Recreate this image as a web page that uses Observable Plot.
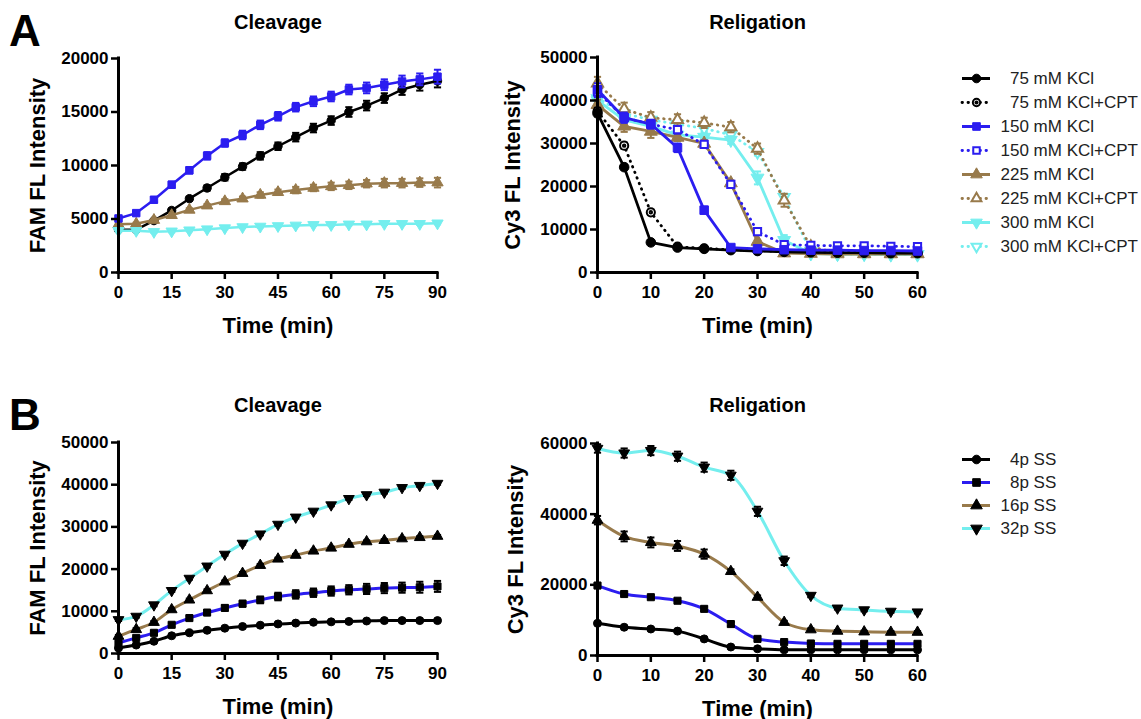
<!DOCTYPE html>
<html><head><meta charset="utf-8">
<script src="https://cdn.jsdelivr.net/npm/d3@7"></script>
<script src="https://cdn.jsdelivr.net/npm/@observablehq/plot@0.6"></script>
<style>
body{margin:0;background:#fff;width:1141px;height:719px;position:relative;overflow:hidden;font-family:"Liberation Sans",Arial,sans-serif;}
.panel{position:absolute;}
.letter{position:absolute;font-weight:bold;font-size:44px;line-height:1;color:#000;}
svg{overflow:visible;}
</style></head><body>
<div class="letter" style="left:9px;top:9px">A</div>
<div class="letter" style="left:9px;top:393px">B</div>
<div id="aCl" class="panel" style="left:0;top:0"></div>
<div id="aRel" class="panel" style="left:480px;top:0"></div>
<div id="aLeg" class="panel" style="left:940px;top:60px"></div>
<div id="bCl" class="panel" style="left:0;top:380px"></div>
<div id="bRel" class="panel" style="left:480px;top:380px"></div>
<div id="bLeg" class="panel" style="left:940px;top:440px"></div>
<script>
// ---------- data ----------
const timeCleavage = [0,5,10,15,20,25,30,35,40,45,50,55,60,65,70,75,80,85,90];
const timeReligation = [0,5,10,15,20,25,30,35,40,45,50,55,60];
const ticksCleavageX = [0,15,30,45,60,75,90];
const ticksReligationX = [0,10,20,30,40,50,60];
const ticksACleavageY = [0,5000,10000,15000,20000];
const ticksAReligationY = [0,10000,20000,30000,40000,50000];
const ticksBCleavageY = [0,10000,20000,30000,40000,50000];
const ticksBReligationY = [0,20000,40000,60000];

const labelsA = ["75 mM KCl","75 mM KCl+CPT","150 mM KCl","150 mM KCl+CPT","225 mM KCl","225 mM KCl+CPT","300 mM KCl","300 mM KCl+CPT"];
const labelsB = ["4p SS","8p SS","16p SS","32p SS"];

// Panel A, cleavage (FAM)
const aCl75  = [4000,4000,4850,5800,6900,7900,8900,9900,10900,11800,12650,13500,14200,15000,15600,16300,17100,17550,17900];
const aCl150 = [5050,5550,6800,8200,9550,10900,12100,12850,13800,14600,15450,16000,16450,17100,17250,17550,17850,18050,18300];
const aCl225 = [4500,4550,4900,5350,5850,6250,6650,6900,7250,7500,7700,7900,8050,8150,8300,8350,8350,8400,8400];
const aCl300 = [3900,3900,3800,3850,3950,4050,4150,4250,4300,4350,4400,4450,4450,4500,4500,4550,4550,4550,4600];
const aCl75Err  = [150,150,150,200,200,250,300,300,350,350,400,400,400,450,450,450,500,550,600];
const aCl150Err = [150,200,250,300,300,350,350,400,400,400,400,450,450,450,500,500,550,550,650];
const aCl225Err = [100,100,100,150,150,150,200,200,250,250,300,300,350,350,350,400,400,400,450];
const aCl300Err = [100,100,100,100,100,100,100,100,100,100,100,100,100,100,100,100,100,100,100];

// Panel A, religation (Cy3)
const aRel75     = [37000,24500,7000,5800,5500,5200,5000,4800,4700,4600,4600,4500,4500];
const aRel75cpt  = [37500,29500,14000,6000,5600,5300,5100,4900,4800,4700,4700,4600,4600];
const aRel150    = [42500,36000,34500,29000,14500,5800,5500,5300,5200,5200,5100,5100,5000];
const aRel150cpt = [42000,36000,34500,33200,29800,20500,9500,6500,6300,6200,6200,6100,6000];
const aRel225    = [39000,34000,32800,31400,30000,20800,7200,4500,4400,4300,4300,4300,4300];
const aRel225cpt = [44000,38000,36000,35500,34800,33800,28800,16800,6000,4500,4400,4400,4400];
const aRel300    = [40000,35500,34000,32000,31500,30800,22000,7500,4400,4300,4300,4200,4200];
const aRel300cpt = [40500,37000,35500,34500,33500,32000,28000,17500,5000,4300,4300,4200,4200];
const aRel75Err     = [700,600,400,200,200,200,200,200,200,200,200,200,200];
const aRel75cptErr  = [800,700,600,300,200,200,200,200,200,200,200,200,200];
const aRel150Err    = [1500,1200,1000,1000,800,500,300,300,300,300,300,300,300];
const aRel150cptErr = [1200,1000,1000,900,800,800,600,400,300,300,300,300,300];
const aRel225Err    = [1200,1300,1500,800,800,600,400,300,300,300,300,300,300];
const aRel225cptErr = [1500,1500,1300,1300,1200,1200,1200,1500,600,300,300,300,300];
const aRel300Err    = [800,800,800,800,800,900,1500,1200,400,300,300,300,300];
const aRel300cptErr = [800,800,800,800,800,800,800,800,400,300,300,300,300];

// Panel B, cleavage (FAM)
const bCl4  = [1300,2000,2900,4200,4900,5500,6000,6400,6700,7000,7200,7400,7500,7600,7700,7800,7800,7800,7800];
const bCl8  = [2500,3700,4900,6800,8400,9700,10800,11800,12700,13500,14000,14400,14800,15100,15300,15500,15600,15700,15900];
const bCl16 = [4100,5700,7400,10400,12700,14900,17000,19000,20900,22400,23300,24300,25000,25900,26500,26800,27200,27500,27800];
const bCl32 = [8000,8800,11500,14900,17800,20700,23500,26100,28300,30600,32300,33700,35200,36700,37600,38200,39300,39800,40300];
const bCl4Err  = [200,200,200,200,200,200,200,200,200,200,200,200,200,200,200,200,200,200,200];
const bCl8Err  = [300,300,400,400,500,500,600,700,800,900,1000,1000,1100,1100,1200,1200,1200,1300,1300];
const bCl16Err = [300,300,300,300,300,300,300,300,300,300,300,300,300,300,300,300,300,300,300];
const bCl32Err = [300,300,300,300,300,300,300,300,300,300,300,300,300,300,300,300,300,300,300];

// Panel B, religation (Cy3)
const bRel4  = [9100,8000,7500,6900,4700,2400,1900,1600,1600,1600,1600,1600,1600];
const bRel8  = [19800,17400,16500,15500,13200,8900,4700,3800,3400,3300,3300,3300,3300];
const bRel16 = [38300,33700,32000,31000,28700,23800,16500,9400,7300,6900,6700,6600,6600];
const bRel32 = [58600,57300,58000,56400,53300,51000,40800,26800,17000,13400,12900,12500,12300];
const bRel4Err  = [300,200,200,200,200,200,200,200,200,200,200,200,200];
const bRel8Err  = [500,500,500,500,600,600,500,500,600,600,600,600,600];
const bRel16Err = [1200,1400,1400,1400,1300,600,500,400,400,300,300,300,300];
const bRel32Err = [1200,1300,1300,1300,1300,1300,1300,1200,500,400,400,400,400];

// ---------- styles ----------
const BLACK = "#000000", BLUE = "#2b1df0", BROWN = "#987a4b", CYAN = "#74eeee";
const FONT = "'Liberation Sans', Arial, sans-serif";
const SQ3 = Math.sqrt(3);
const invTriangle = {draw(ctx, size){ const y = Math.sqrt(size/(SQ3*3)); ctx.moveTo(0, y*2); ctx.lineTo(-SQ3*y, -y); ctx.lineTo(SQ3*y, -y); ctx.closePath(); }};
const capSym = {draw(ctx, size){ const w = Math.sqrt(size/Math.PI); ctx.moveTo(-w,0); ctx.lineTo(w,0); }};
const circleDot = {draw(ctx, size){ const r = Math.sqrt(size/Math.PI); ctx.moveTo(r,0); ctx.arc(0,0,r,0,2*Math.PI); const q = r*0.3; ctx.moveTo(q,0); ctx.arc(0,0,q,0,2*Math.PI); }};

const styleA = {
  "75 mM KCl":      {color: BLACK, symbol: "circle",   open: false, dotted: false},
  "75 mM KCl+CPT":  {color: BLACK, symbol: circleDot,  open: true,  dotted: true},
  "150 mM KCl":     {color: BLUE,  symbol: "square",   open: false, dotted: false},
  "150 mM KCl+CPT": {color: BLUE,  symbol: "square",   open: true,  dotted: true},
  "225 mM KCl":     {color: BROWN, symbol: "triangle", open: false, dotted: false},
  "225 mM KCl+CPT": {color: BROWN, symbol: "triangle", open: true,  dotted: true},
  "300 mM KCl":     {color: CYAN,  symbol: invTriangle,open: false, dotted: false},
  "300 mM KCl+CPT": {color: CYAN,  symbol: invTriangle,open: true,  dotted: true}
};
const styleB = {
  "4p SS":  {color: BLACK, symbol: "circle",    marker: BLACK},
  "8p SS":  {color: BLUE,  symbol: "square",    marker: BLACK},
  "16p SS": {color: BROWN, symbol: "triangle",  marker: BLACK},
  "32p SS": {color: CYAN,  symbol: invTriangle, marker: BLACK}
};

function rows(label, times, values, errs){
  return times.map((t,i) => ({label, t, v: values[i], e: errs[i]}));
}

function seriesMarks(data, st, opts){
  const lineColor = st.color;
  const markColor = st.marker || st.color;
  const errColor = opts.errColor || st.color;
  const r = st.open ? opts.r * 0.85 : opts.r;
  return [
    Plot.line(data, {x: "t", y: "v", stroke: lineColor, strokeWidth: opts.lineWidth,
      strokeDasharray: st.dotted ? "0.5 5.5" : null, strokeLinecap: "round", strokeLinejoin: "round", curve: opts.curve}),
    Plot.ruleX(data, {x: "t", y1: d => d.v - d.e, y2: d => d.v + d.e, stroke: errColor, strokeWidth: 2}),
    Plot.dot(data, {x: "t", y: d => d.v + d.e, symbol: capSym, r: 3.6, stroke: errColor, strokeWidth: 2, fill: "none"}),
    Plot.dot(data, {x: "t", y: d => d.v - d.e, symbol: capSym, r: 3.6, stroke: errColor, strokeWidth: 2, fill: "none"}),
    Plot.dot(data, {x: "t", y: "v", symbol: st.symbol, r, fill: st.open ? "white" : markColor,
      stroke: markColor, strokeWidth: st.open ? 2 : 1})
  ];
}

function panel(cfg){
  const marginRight = 22, marginBottom = 70;
  const marks = [];
  for (const s of cfg.series) marks.push(...seriesMarks(s.data, s.style, cfg));
  marks.push(
    Plot.ruleX([cfg.xDomain[0]], {y1: cfg.yDomain[0], y2: cfg.yDomain[1], strokeWidth: 3, strokeLinecap: "square"}),
    Plot.ruleY([cfg.yDomain[0]], {x1: cfg.xDomain[0], x2: cfg.xDomain[1], strokeWidth: 3, strokeLinecap: "square"}),
    Plot.axisX({ticks: cfg.xTicks, tickSize: 7, tickPadding: 6, tickFormat: d => String(d), fontSize: 17, fontWeight: "bold", strokeWidth: 2.5, label: null}),
    Plot.axisY({ticks: cfg.yTicks, tickSize: 7, tickPadding: 3, tickFormat: d => String(d), fontSize: 17, fontWeight: "bold", strokeWidth: 2.5, label: null}),
    Plot.text([cfg.title], {text: d => d, frameAnchor: "top", lineAnchor: "middle", dy: cfg.titleDy, fontSize: 20, fontWeight: "bold"}),
    Plot.text(["Time (min)"], {text: d => d, frameAnchor: "bottom", lineAnchor: "middle", dy: cfg.xLabelDy, fontSize: 22, fontWeight: "bold"}),
    Plot.text([cfg.yLabel], {text: d => d, frameAnchor: "left", textAnchor: "middle", lineAnchor: "middle", rotate: -90, dx: cfg.yLabelDx, fontSize: 22, fontWeight: "bold"})
  );
  return Plot.plot({
    width: cfg.marginLeft + cfg.plotW + marginRight,
    height: cfg.marginTop + cfg.plotH + marginBottom,
    marginLeft: cfg.marginLeft, marginTop: cfg.marginTop, marginRight, marginBottom,
    style: {fontFamily: FONT, color: "black", background: "transparent", overflow: "visible"},
    x: {domain: cfg.xDomain},
    y: {domain: cfg.yDomain},
    marks
  });
}

const aSeriesCl = [
  {data: rows("75 mM KCl", timeCleavage, aCl75, aCl75Err), style: styleA["75 mM KCl"]},
  {data: rows("225 mM KCl", timeCleavage, aCl225, aCl225Err), style: styleA["225 mM KCl"]},
  {data: rows("300 mM KCl", timeCleavage, aCl300, aCl300Err), style: styleA["300 mM KCl"]},
  {data: rows("150 mM KCl", timeCleavage, aCl150, aCl150Err), style: styleA["150 mM KCl"]}
];
const aRelValues = {
  "300 mM KCl+CPT": [aRel300cpt, aRel300cptErr],
  "300 mM KCl": [aRel300, aRel300Err],
  "225 mM KCl+CPT": [aRel225cpt, aRel225cptErr],
  "225 mM KCl": [aRel225, aRel225Err],
  "150 mM KCl+CPT": [aRel150cpt, aRel150cptErr],
  "75 mM KCl+CPT": [aRel75cpt, aRel75cptErr],
  "75 mM KCl": [aRel75, aRel75Err],
  "150 mM KCl": [aRel150, aRel150Err]
};
const aSeriesRel = Object.entries(aRelValues).map(([k, [v, e]]) => ({data: rows(k, timeReligation, v, e), style: styleA[k]}));

const bSeriesCl = [
  {data: rows("32p SS", timeCleavage, bCl32, bCl32Err), style: styleB["32p SS"]},
  {data: rows("16p SS", timeCleavage, bCl16, bCl16Err), style: styleB["16p SS"]},
  {data: rows("8p SS", timeCleavage, bCl8, bCl8Err), style: styleB["8p SS"]},
  {data: rows("4p SS", timeCleavage, bCl4, bCl4Err), style: styleB["4p SS"]}
];
const bSeriesRel = [
  {data: rows("32p SS", timeReligation, bRel32, bRel32Err), style: styleB["32p SS"]},
  {data: rows("16p SS", timeReligation, bRel16, bRel16Err), style: styleB["16p SS"]},
  {data: rows("8p SS", timeReligation, bRel8, bRel8Err), style: styleB["8p SS"]},
  {data: rows("4p SS", timeReligation, bRel4, bRel4Err), style: styleB["4p SS"]}
];

document.getElementById("aCl").append(panel({
  series: aSeriesCl, xDomain: [0,90], yDomain: [0,20000], xTicks: ticksCleavageX, yTicks: ticksACleavageY,
  title: "Cleavage", yLabel: "FAM FL Intensity", marginLeft: 118, marginTop: 58, plotW: 319, plotH: 214,
  titleDy: -36, xLabelDy: 53, yLabelDx: -81, r: 4.2, lineWidth: 2.5, curve: "linear"
}));
document.getElementById("aRel").append(panel({
  series: aSeriesRel, xDomain: [0,60], yDomain: [0,50000], xTicks: ticksReligationX, yTicks: ticksAReligationY,
  title: "Religation", yLabel: "Cy3 FL Intensity", marginLeft: 117, marginTop: 57, plotW: 320, plotH: 215,
  titleDy: -35, xLabelDy: 53, yLabelDx: -85, r: 4.8, lineWidth: 2.8, curve: "linear"
}));
document.getElementById("bCl").append(panel({
  series: bSeriesCl, xDomain: [0,90], yDomain: [0,50000], xTicks: ticksCleavageX, yTicks: ticksBCleavageY,
  title: "Cleavage", yLabel: "FAM FL Intensity", marginLeft: 118, marginTop: 62, plotW: 319, plotH: 211,
  titleDy: -37, xLabelDy: 53, yLabelDx: -81, r: 4, lineWidth: 3, curve: "monotone-x", errColor: BLACK
}));
document.getElementById("bRel").append(panel({
  series: bSeriesRel, xDomain: [0,60], yDomain: [0,60000], xTicks: ticksReligationX, yTicks: ticksBReligationY,
  title: "Religation", yLabel: "Cy3 FL Intensity", marginLeft: 117, marginTop: 63, plotW: 320, plotH: 212,
  titleDy: -38, xLabelDy: 53, yLabelDx: -82, r: 4, lineWidth: 3, curve: "monotone-x", errColor: BLACK
}));

// ---------- legends ----------
function legend(labels, styles, cfg){
  const marks = [];
  for (const lab of labels){
    const st = styles[lab];
    const markColor = st.marker || st.color;
    marks.push(
      Plot.ruleY([lab], {x1: 0, x2: 1, stroke: st.color, strokeWidth: st.dotted ? 2.8 : 3,
        strokeDasharray: st.dotted ? "0.5 5.5" : null, strokeLinecap: st.dotted ? "round" : "butt"}),
      Plot.dot([lab], {x: 0.5, y: d => d, symbol: st.symbol, r: st.open ? cfg.r * 0.85 : cfg.r, fill: st.open ? "white" : markColor,
        stroke: markColor, strokeWidth: st.open ? 2 : 1}),
      Plot.text([lab], {x: 1, y: d => d, text: d => (cfg.pad.includes(d) ? "\u2007" : "") + d, dx: 10,
        textAnchor: "start", fontSize: 17, fill: "#222"})
    );
  }
  return Plot.plot({
    width: 201, height: cfg.height, marginLeft: 22, marginRight: 151, marginTop: cfg.marginTop, marginBottom: cfg.marginBottom,
    style: {fontFamily: FONT, background: "transparent", overflow: "visible"},
    x: {domain: [0,1], axis: null},
    y: {type: "point", domain: labels, padding: 0, axis: null},
    marks
  });
}
document.getElementById("aLeg").append(legend(labelsA, styleA, {height: 200, marginTop: 15, marginBottom: 12, r: 4.3, pad: ["75 mM KCl","75 mM KCl+CPT"]}));
document.getElementById("bLeg").append(legend(labelsB, styleB, {height: 100, marginTop: 18, marginBottom: 11, r: 4.3, pad: ["4p SS","8p SS"]}));
</script>
</body></html>
